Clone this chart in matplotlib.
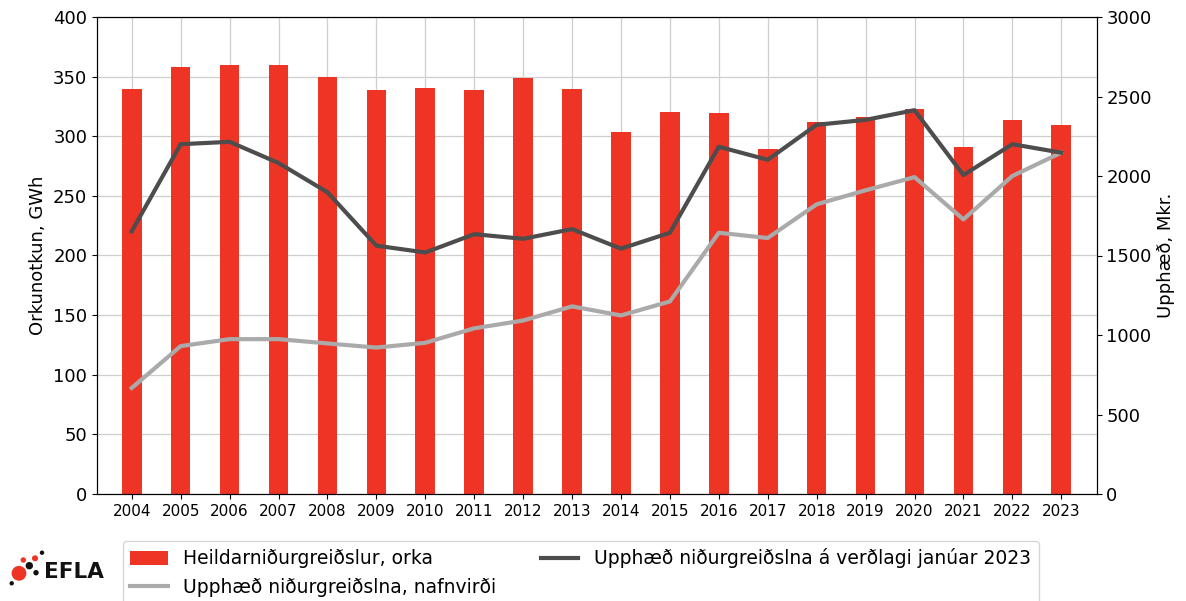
import matplotlib
matplotlib.use("Agg")
import matplotlib.pyplot as plt
from matplotlib.patches import Circle
import numpy as np

years = ["2004", "2005", "2006", "2007", "2008", "2009", "2010", "2011", "2012", "2013",
         "2014", "2015", "2016", "2017", "2018", "2019", "2020", "2021", "2022", "2023"]
energy_gwh = [339.5, 358, 360, 360, 349.5, 339, 340.5, 338.5, 348.7, 340,
              303.3, 320, 319.3, 289.3, 311.7, 316.2, 323.2, 290.8, 314, 309.3]
real_mkr = [1652, 2200, 2215, 2082, 1898, 1562, 1519, 1634, 1605, 1666,
            1543, 1643, 2184, 2102, 2322, 2353, 2414, 2006, 2200, 2147]
nominal_mkr = [667, 930, 974, 974, 947, 921, 951, 1042, 1091, 1180,
               1123, 1211, 1643, 1610, 1822, 1910, 1993, 1727, 2000, 2147]

label_bar = "Heildarniðurgreiðslur, orka"
label_nom = "Upphæð niðurgreiðslna, nafnvirði"
label_real = "Upphæð niðurgreiðslna á verðlagi janúar 2023"

fig = plt.figure(figsize=(11.86, 6.01), dpi=100)
ax1 = fig.add_axes([97/1186, 1 - 494/601, (1096.5 - 97)/1186, (494 - 17)/601])
x = np.arange(len(years))

ax1.set_axisbelow(True)
ax1.grid(True, color="#cfcfcf", linewidth=0.9)
bars = ax1.bar(x, energy_gwh, width=0.4, color="#ee3424", label=label_bar)
ax1.set_ylim(0, 400)
ax1.set_xlim(-0.71, 19.72)
ax1.set_xticks(x)
ax1.set_xticklabels(years, fontsize=11)
ax1.tick_params(axis="y", labelsize=13)
ax1.set_ylabel("Orkunotkun, GWh", fontsize=13)

ax2 = ax1.twinx()
l_nom, = ax2.plot(x, nominal_mkr, color="#aaaaaa", linewidth=3, label=label_nom)
l_real, = ax2.plot(x, real_mkr, color="#4d4d4d", linewidth=3, label=label_real)
ax2.set_ylim(0, 3000)
ax2.tick_params(axis="y", labelsize=13)
ax2.set_ylabel("Upphæð, Mkr.", fontsize=13)

fig.legend([bars, l_nom, l_real], [label_bar, label_nom, label_real],
           loc="upper left", bbox_to_anchor=(122.5/1186, 1 - 541/601),
           borderaxespad=0, ncol=2, fontsize=13.5, labelspacing=0.5,
           columnspacing=2.35, handlelength=2.0, handletextpad=0.85)

# EFLA logo
def dot(px, py, r, c):
    fig.patches.append(Circle((px/100, (601 - py)/100), r/100, color=c,
                              transform=fig.dpi_scale_trans, figure=fig))
dot(19, 573.3, 6.7, "#ee3424")
dot(29.3, 565.7, 3.0, "#111111")
dot(23.3, 560, 2.0, "#ee3424")
dot(35, 558.3, 2.3, "#ee3424")
dot(36, 572.7, 2.0, "#111111")
dot(42, 552.7, 1.5, "#111111")
dot(11.7, 583.3, 1.5, "#111111")
fig.text(44/1186, 1 - 571.7/601, "EFLA", fontsize=15.5, fontweight="bold",
         va="center", ha="left", color="#111111")

fig.savefig("out.png", dpi=100)
